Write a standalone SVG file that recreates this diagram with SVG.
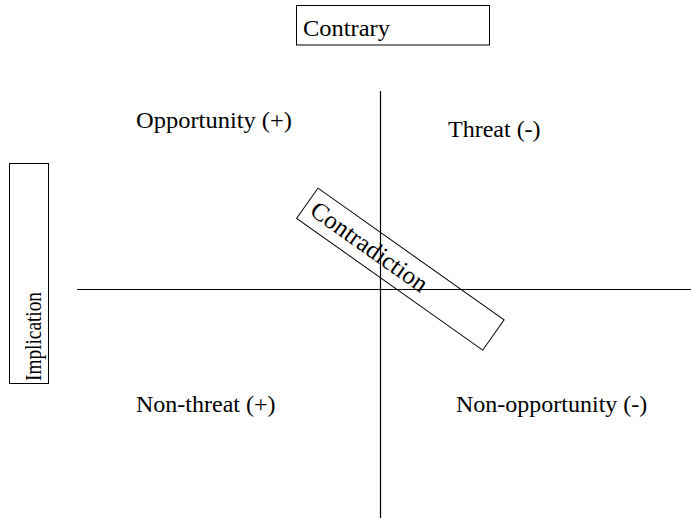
<svg xmlns="http://www.w3.org/2000/svg" width="691" height="518" viewBox="0 0 691 518">
  <style>
    .box { fill: #ffffff; stroke: #000000; stroke-width: 1; }
    .axis { stroke: #000000; stroke-width: 1.2; fill: none; }
    .lbl { font-family: "Liberation Serif", "Times New Roman", serif; font-size: 24px; fill: #000000; }
  </style>
  <rect x="0" y="0" width="691" height="518" fill="#ffffff"/>

  <!-- axes -->
  <g id="connectors">
    <line class="axis" x1="77" y1="289.5" x2="691" y2="289.5"/>
    <line class="axis" x1="380.5" y1="91" x2="380.5" y2="518"/>
  </g>

  <!-- top label -->
  <g id="contrary">
    <rect class="box" x="296.5" y="5.5" width="193" height="39.5"/>
    <text class="lbl" x="303" y="36" textLength="87" lengthAdjust="spacingAndGlyphs">Contrary</text>
  </g>

  <!-- side label -->
  <g id="implication">
    <rect class="box" x="9.5" y="163.5" width="39" height="220"/>
    <text class="lbl" transform="translate(41,381) rotate(-90)" x="0" y="0" style="font-size:23px" textLength="89" lengthAdjust="spacingAndGlyphs">Implication</text>
  </g>

  <!-- quadrant labels -->
  <g id="opportunity">
    <text class="lbl" x="136" y="128" textLength="156" lengthAdjust="spacingAndGlyphs">Opportunity (+)</text>
  </g>
  <g id="threat">
    <text class="lbl" x="448" y="137">Threat (-)</text>
  </g>
  <g id="non-threat">
    <text class="lbl" x="136" y="412">Non-threat (+)</text>
  </g>
  <g id="non-opportunity">
    <text class="lbl" x="456" y="412">Non-opportunity (-)</text>
  </g>

  <!-- diagonal label -->
  <g id="contradiction" transform="translate(400.35,269.15) rotate(35.3)">
    <rect x="-114" y="-18.5" width="228" height="37" fill="none" stroke="#000000" stroke-width="1"/>
    <text class="lbl" x="-107" y="8" style="font-size:25px">Contradiction</text>
  </g>
</svg>
